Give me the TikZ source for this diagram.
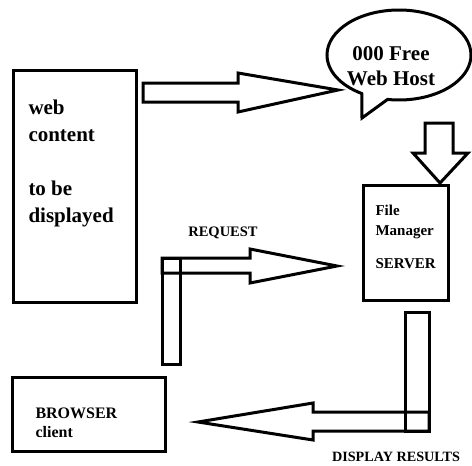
\documentclass[tikz,border=0pt]{standalone}
\usepackage{fontspec}
\setmainfont{Liberation Serif}
\usetikzlibrary{shapes.callouts}
\tikzset{every path/.style={black,line width=3pt},
  box/.style={draw,rectangle,inner sep=0pt},
  lbl/.style={inner sep=0pt,align=left,font=\bfseries},
  blockarrow/.style={draw,fill=white}}

\begin{document}
\begin{tikzpicture}[x=1pt,y=-1pt]
  \useasboundingbox (0,0) rectangle (472,466);
  % boxes
  \node[box,minimum width=123pt,minimum height=232pt] (content) at (74.5,186) {};
  \node[lbl,anchor=west,font=\bfseries\fontsize{21}{27}\selectfont] (contenttxt) at (27,163)
       {web\\content\\ \\to be\\displayed};
  \node[box,minimum width=85pt,minimum height=115pt] (server) at (405.5,242.5) {};
  \node[lbl,anchor=west,font=\bfseries\fontsize{15}{20}\selectfont] (servertxt) at (374,236.5)
       {File\\Manager\\[13pt]SERVER};
  \node[box,minimum width=153pt,minimum height=74pt] (browser) at (88.5,414) {};
  \node[lbl,anchor=west,font=\bfseries\fontsize{16}{19}\selectfont] (browsertxt) at (34,422.5)
       {BROWSER\\client};
  \node[draw,ellipse callout,minimum width=144pt,minimum height=90pt,
        callout absolute pointer={(362,118)},callout pointer arc=22] (host) at (399,55) {};
  \node[lbl,align=center,font=\bfseries\fontsize{21}{25}\selectfont] (hosttxt) at (391,66)
       {000 Free\\Web Host};
  \node[lbl,font=\bfseries\fontsize{14.5}{17}\selectfont] (request) at (223,233) {REQUEST};
  \node[lbl,font=\bfseries\fontsize{14.2}{17}\selectfont] (display) at (396,457) {DISPLAY RESULTS};
  % block arrows
  \draw[blockarrow] (143,83) -- (238,83) -- (238,73) -- (338,90) -- (238,112) -- (238,102) -- (143,102) -- cycle;
  \draw[blockarrow] (425,123) -- (453,123) -- (453,153) -- (468,153) -- (440,183) -- (413,153) -- (425,153) -- cycle;
  \begin{scope}
   \draw[blockarrow] (162,258) -- (250,258) -- (250,249) -- (337,266) -- (250,283) -- (250,273) -- (162,273) -- cycle;
   \draw (162,258) rectangle (180,364);
  \end{scope}
  \begin{scope}
   \draw[blockarrow] (429,412) -- (313,412) -- (313,403) -- (198,422) -- (313,440) -- (313,431) -- (429,431) -- cycle;
   \draw (405,312) rectangle (429,431);
  \end{scope}
\end{tikzpicture}
\end{document}
